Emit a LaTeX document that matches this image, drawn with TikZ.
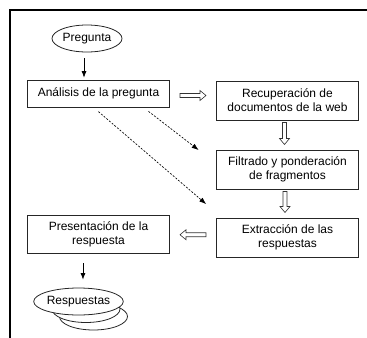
\documentclass[tikz,border=0pt]{standalone}
\usepackage{fontspec}
\setmainfont{Liberation Sans}
\usetikzlibrary{shapes.geometric,arrows.meta,calc}

\tikzset{
  paso/.style={draw=black!85, line width=0.8bp, minimum width=142bp, align=center, inner sep=0pt},
  oval/.style={ellipse, draw=black!85, line width=0.8bp, fill=white, minimum width=68bp, minimum height=27bp, inner sep=0pt},
  flecha/.style={-{Latex[length=6.5bp,width=5bp]}, line width=0.7bp},
  trazos/.style={-{Latex[length=7bp,width=5bp]}, line width=0.65bp, dash pattern=on 2bp off 1.5bp},
  pics/hueca/.style={code={
    \draw[line width=0.6bp, draw=black!80, fill=white]
      (-#1,-2) -- (#1-6,-2) -- (#1-6,-5) -- (#1,0) -- (#1-6,5) -- (#1-6,2) -- (-#1,2) -- cycle;
  }}
}

\begin{document}
\begin{tikzpicture}[x=1bp, y=-1bp, font=\fontsize{12bp}{14bp}\selectfont]
            \useasboundingbox (0,0) rectangle (367,338);
            \draw[line width=1.3bp] (367,10) -- (10,10) -- (10,338);

            % Pasos
            \node[oval, minimum width=70bp] (pre) at (87,38.5) {Pregunta};
            \node[paso, minimum height=27bp] (an) at (98.5,93.5) {Análisis de la pregunta};
            \node[paso, minimum height=39bp] (rec) at (287.5,100.5) {Recuperación de\\documentos de la web};
            \node[paso, minimum height=39bp] (fi) at (287.5,169.5) {Filtrado y ponderación\\de fragmentos};
            \node[paso, minimum height=39bp] (ex) at (287.5,237.5) {Extracción de las\\respuestas};
            \node[paso, minimum height=38bp] (pres) at (98.5,234) {Presentación de la\\respuesta};

            % Respuestas apiladas
            \node[oval] (resp3) at (93.5,316.5) {};
            \node[oval] (resp2) at (86,309) {};
            \node[oval] (resp) at (78.5,301.5) {Respuestas};

            % Flechas
            \draw[flecha, shorten <=6bp, shorten >=2bp] ([xshift=-3]pre.south) -- ([xshift=-3]pre.south |- an.north);
            \draw[flecha, shorten <=10bp, shorten >=8bp] ([xshift=4.5]resp.north |- pres.south) -- ([xshift=4.5]resp.north);
            \draw[trazos, shorten <=6.5bp, shorten >=13bp] ([xshift=-5]an.south) -- ([yshift=5]ex.north west);
            \draw[trazos, shorten <=6.5bp, shorten >=22bp] ([xshift=45]an.south) -- ([yshift=6]fi.west);

            % Flechas huecas
            \pic (h1) at ($(an.east)!0.5!(rec.west)+(0,-1.5)$) {hueca=13};
            \pic[rotate=-90] (h2) at ($(rec.south)!0.5!(fi.north)+(-3,-1.5)$) {hueca=11};
            \pic[rotate=-90] (h3) at ($(fi.south)!0.5!(ex.north)+(-2.5,-1.5)$) {hueca=10.5};
            \pic[rotate=180] (h4) at ($(ex.west)!0.5!(pres.east)+(0,-1)$) {hueca=13};
\end{tikzpicture}
\end{document}
